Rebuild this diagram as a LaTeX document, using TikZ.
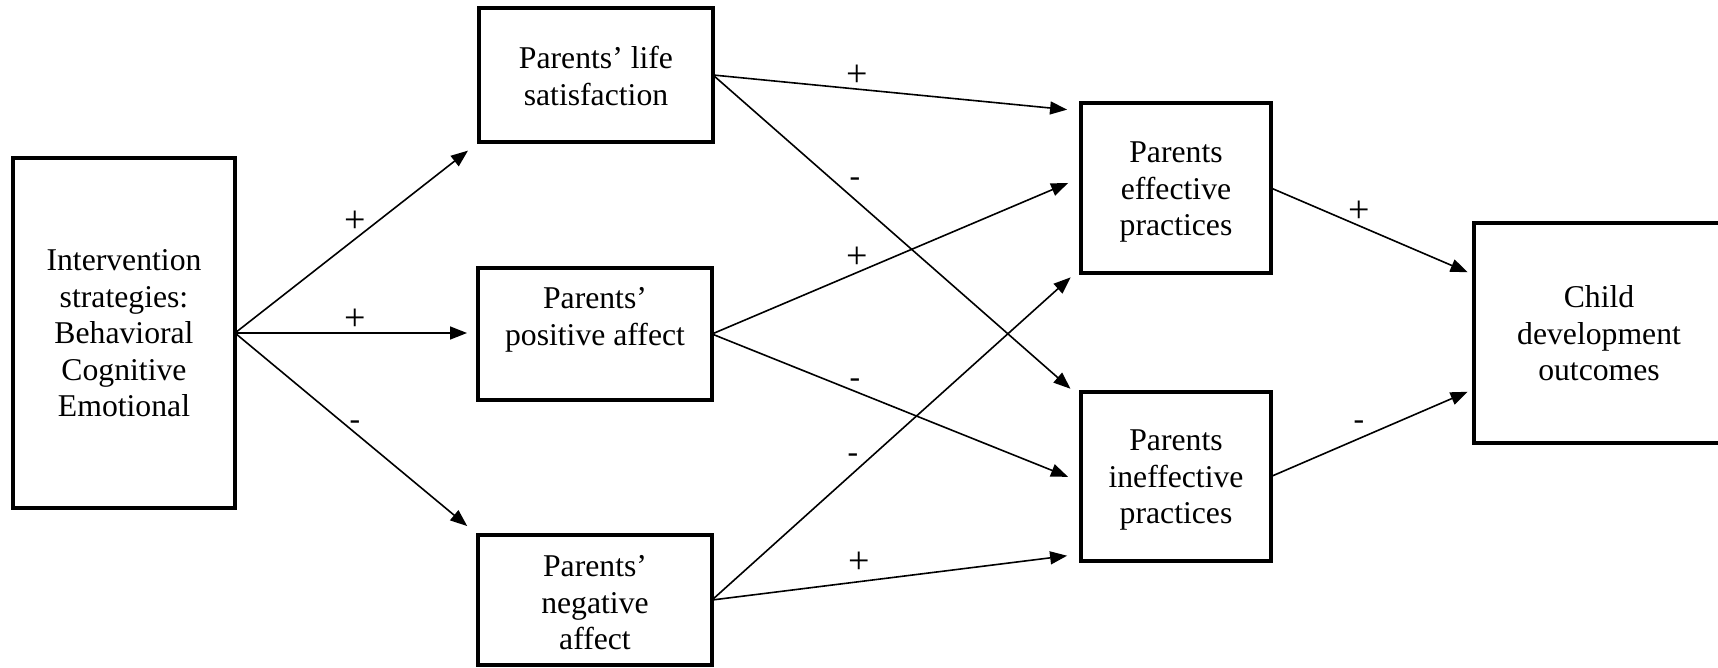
\documentclass[tikz,border=0pt]{standalone}
\usepackage{fontspec}
\setmainfont{Liberation Serif}
\usetikzlibrary{arrows.meta,calc}
\begin{document}
\begin{tikzpicture}[x=1pt,y=-1pt,
  boxnode/.style={draw, line width=3.5pt, rectangle, inner sep=0pt, outer sep=0pt},
  txt/.style={align=center, inner sep=0pt, font=\fontsize{31.7}{36.5}\selectfont},
  sgn/.style={inner sep=0pt, font=\fontsize{31.7}{36.5}\selectfont},
  plus/.style={inner sep=0pt, font=\fontsize{38}{40}\selectfont},
  conn/.style={line width=1.6pt, -{Triangle[length=17pt,width=13pt]}, shorten >=14pt}
]
\useasboundingbox (0,0) rectangle (1718,667);

% boxes
\node[boxnode, minimum width=222pt, minimum height=350pt] (b1) at (124,333) {};
\node[boxnode, minimum width=234pt, minimum height=134pt] (b2) at (596,75) {};
\node[boxnode, minimum width=234pt, minimum height=132pt] (b3) at (595,334) {};
\node[boxnode, minimum width=234pt, minimum height=130pt] (b4) at (595,600) {};
\node[boxnode, minimum width=190pt, minimum height=170pt] (b5) at (1176,188) {};
\node[boxnode, minimum width=190pt, minimum height=169pt] (b6) at (1176,476.5) {};
\node[boxnode, minimum width=250pt, minimum height=220pt] (b7) at (1599,333) {};

% texts
\node[txt] (t1) at (124,333.5) {Intervention\\strategies:\\Behavioral\\Cognitive\\Emotional};
\node[txt] (t2) at (596,76) {Parents’ life\\satisfaction};
\node[txt] (t3) at (595,320) {Parents’\\positive affect};
\node[txt] (t4) at (595,603) {Parents’\\negative\\affect};
\node[txt] (t5) at (1176,192) {Parents\\effective\\practices};
\node[txt] (t6) at (1176,480) {Parents\\ineffective\\practices};
\node[txt] (t7) at (1599,333.5) {Child\\development\\outcomes};

% connectors
\draw[conn] (b1.east) -- (b2.south west);
\draw[conn, shorten >=11pt] (b1.east) -- (b1.east -| b3.west);
\draw[conn] (b1.east) -- (b4.north west);
\draw[conn] (b2.east) -- ($(b5.north west)+(0,8)$);
\draw[conn] (b2.east) -- ($(b6.north west)+(0,6)$);
\draw[conn] (b3.east) -- ($(b5.west)+(0,-10.5)$);
\draw[conn] (b3.east) -- ($(b6.west)+(0,5.5)$);
\draw[conn] (b4.east) -- ($(b5.south west)+(0,-5)$);
\draw[conn] (b4.east) -- ($(b6.south west)+(0,-7)$);
\draw[conn, shorten >=7pt] (b5.east) -- ($(b7.west)+(0,-58)$);
\draw[conn, shorten >=7pt] (b6.east) -- ($(b7.west)+(0,56)$);

% signs
\node[plus] (s1) at (355.5,222) {+};
\node[plus] (s2) at (355.5,320) {+};
\node[sgn] (s3) at (355,425) {-};
\node[plus] (s4) at (857,76) {+};
\node[sgn] (s5) at (855,182) {-};
\node[plus] (s6) at (857,258) {+};
\node[sgn] (s7) at (855,383) {-};
\node[sgn] (s8) at (853,458) {-};
\node[plus] (s9) at (859,563) {+};
\node[plus] (s10) at (1359,212) {+};
\node[sgn] (s11) at (1359,425) {-};
\end{tikzpicture}
\end{document}
